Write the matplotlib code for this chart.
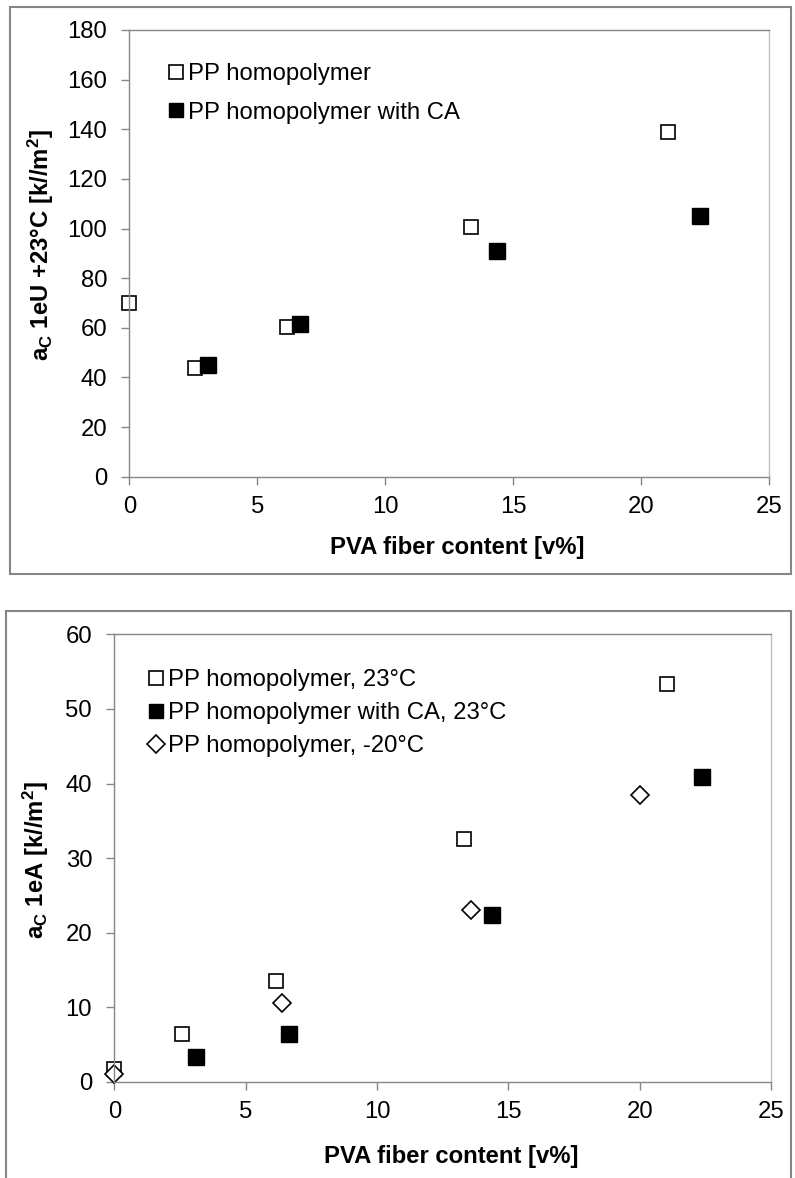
import matplotlib
matplotlib.use("Agg")
import matplotlib.pyplot as plt
from matplotlib.patches import Rectangle

plt.rcParams['font.family'] = ['Liberation Sans', 'DejaVu Sans']
plt.rcParams['mathtext.default'] = 'regular'

# ---------------- data ----------------
# Top panel: unnotched Charpy impact strength at +23 °C
top_pp_x = [0.0, 2.57, 6.17, 13.35, 21.05]
top_pp_y = [69.8, 43.6, 60.2, 100.8, 139.0]
top_ca_x = [3.09, 6.67, 14.37, 22.3]
top_ca_y = [45.0, 61.5, 91.1, 105.0]

# Bottom panel: notched Charpy impact strength
bot_pp23_x = [0.0, 2.56, 6.14, 13.31, 21.04]
bot_pp23_y = [1.8, 6.4, 13.6, 32.6, 53.3]
bot_ca23_x = [3.1, 6.65, 14.38, 22.38]
bot_ca23_y = [3.4, 6.4, 22.4, 40.9]
bot_pp20_x = [0.0, 6.37, 13.58, 20.0]
bot_pp20_y = [1.1, 10.6, 23.1, 38.4]

x_ticks = [0, 5, 10, 15, 20, 25]
top_y_ticks = [0, 20, 40, 60, 80, 100, 120, 140, 160, 180]
bot_y_ticks = [0, 10, 20, 30, 40, 50, 60]

top_labels = ["PP homopolymer", "PP homopolymer with CA"]
bot_labels = ["PP homopolymer, 23°C", "PP homopolymer with CA, 23°C",
              "PP homopolymer, -20°C"]
top_ylabel = r"a$_{C}$ 1eU +23°C [k//m$^{2}$]"
bot_ylabel = r"a$_{C}$ 1eA [k//m$^{2}$]"
xlabel = "PVA fiber content [v%]"

# ---------------- figure ----------------
W, H = 795, 1178
fig = plt.figure(figsize=(W / 100, H / 100), dpi=100)

GREY = '#868686'
LIGHT = '#BFBFBF'
FS = 17.2


def fx(px):
    return px / W


def fy(py):
    return 1 - py / H


# outer frames
fig.patches.append(Rectangle((fx(10), fy(574)), fx(791) - fx(10), fy(7) - fy(574),
                             transform=fig.transFigure, fill=False,
                             edgecolor=GREY, linewidth=1.5))
fig.patches.append(Rectangle((fx(6), fy(1190)), fx(791) - fx(6), fy(611) - fy(1190),
                             transform=fig.transFigure, fill=False,
                             edgecolor=GREY, linewidth=1.5))


def style_axes(ax, yticks, ymax):
    ax.set_xlim(0, 25)
    ax.set_ylim(0, ymax)
    ax.set_xticks(x_ticks)
    ax.set_yticks(yticks)
    for s in ['left', 'bottom', 'top']:
        ax.spines[s].set_color(GREY)
        ax.spines[s].set_linewidth(1.0)
    ax.spines['right'].set_color(LIGHT)
    ax.spines['right'].set_linewidth(1.0)
    ax.tick_params(axis='both', direction='out', length=6, width=1.0,
                   color=GREY, labelsize=FS, labelcolor='black')
    ax.tick_params(axis='y', pad=10)
    ax.tick_params(axis='x', pad=8)


sq_open = dict(linestyle='none', marker='s', markersize=10.5, markerfacecolor='white',
               markeredgecolor='black', markeredgewidth=1.2, clip_on=False)
sq_fill = dict(linestyle='none', marker='s', markersize=11, markerfacecolor='black',
               markeredgecolor='black', markeredgewidth=1.0, clip_on=False)
dia_open = dict(linestyle='none', marker='D', markersize=9.5, markerfacecolor='white',
                markeredgecolor='black', markeredgewidth=1.2, clip_on=False)

# ---------------- top panel ----------------
ax1 = fig.add_axes([fx(129.3), fy(476.7), fx(769) - fx(129.3), fy(30) - fy(476.7)])
style_axes(ax1, top_y_ticks, 180)
ax1.plot(top_pp_x, top_pp_y, label=top_labels[0], **sq_open)
ax1.plot(top_ca_x, top_ca_y, label=top_labels[1], **sq_fill)
ax1.set_xlabel(xlabel, fontsize=FS, fontweight='bold', va='center')
ax1.xaxis.set_label_coords(fx(457), fy(548), transform=fig.transFigure)
ax1.set_ylabel(top_ylabel, fontsize=FS, fontweight='bold', va='center')
ax1.yaxis.set_label_coords(fx(41), fy(245), transform=fig.transFigure)
leg1 = ax1.legend(loc='upper left', bbox_to_anchor=(fx(166), fy(63)),
                  bbox_transform=fig.transFigure, frameon=False, fontsize=FS,
                  handlelength=0.8, handletextpad=0.1, labelspacing=0.7,
                  borderpad=0, borderaxespad=0, markerscale=0.95)

# ---------------- bottom panel ----------------
ax2 = fig.add_axes([fx(114.3), fy(1082), fx(771) - fx(114.3), fy(634.3) - fy(1082)])
style_axes(ax2, bot_y_ticks, 60)
ax2.plot(bot_pp23_x, bot_pp23_y, label=bot_labels[0], **sq_open)
ax2.plot(bot_ca23_x, bot_ca23_y, label=bot_labels[1], **sq_fill)
ax2.plot(bot_pp20_x, bot_pp20_y, label=bot_labels[2], **dia_open)
ax2.set_xlabel(xlabel, fontsize=FS, fontweight='bold', va='center')
ax2.xaxis.set_label_coords(fx(451), fy(1157), transform=fig.transFigure)
ax2.set_ylabel(bot_ylabel, fontsize=FS, fontweight='bold', va='center')
ax2.yaxis.set_label_coords(fx(36), fy(860), transform=fig.transFigure)
leg2 = ax2.legend(loc='upper left', bbox_to_anchor=(fx(146), fy(669)),
                  bbox_transform=fig.transFigure, frameon=False, fontsize=FS,
                  handlelength=0.8, handletextpad=0.1, labelspacing=0.46,
                  borderpad=0, borderaxespad=0, markerscale=0.95)

fig.savefig("out.png", dpi=100)
